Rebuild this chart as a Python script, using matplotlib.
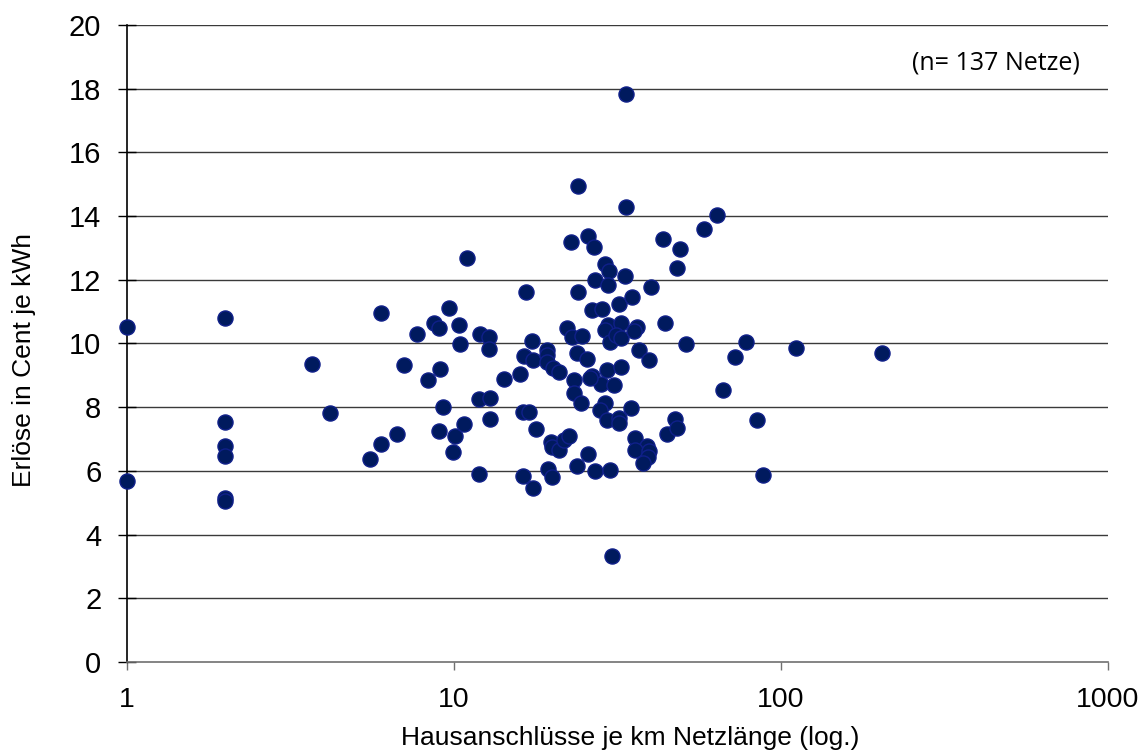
import matplotlib
matplotlib.use("Agg")
import matplotlib.pyplot as plt
from matplotlib.ticker import FixedLocator, NullLocator, FixedFormatter

# Hausanschlüsse je km Netzlänge
anschluesse = [
    1.0, 1.0, 2.0, 2.0, 2.0, 2.0, 2.0, 2.0, 3.68, 4.18,
    5.98, 5.53, 5.98, 6.71, 7.02, 7.72, 8.33, 8.71, 9.0, 9.07,
    9.63, 9.23, 8.97, 10.05, 9.96, 10.7, 10.38, 10.45, 10.96, 11.9,
    12.0, 12.8, 12.8, 11.9, 12.9, 12.9, 14.2, 15.9, 16.4, 17.5,
    16.6, 17.3, 16.3, 17.0, 17.8, 16.3, 17.4, 19.2, 19.2, 19.2,
    20.1, 21.0, 19.8, 20.0, 20.9, 21.7, 22.4, 19.4, 19.9, 22.1,
    22.9, 24.6, 22.8, 24.0, 24.0, 23.8, 25.5, 23.2, 23.2, 24.5,
    23.7, 25.6, 25.7, 26.8, 26.9, 26.5, 28.3, 26.5, 28.2, 27.0,
    29.9, 29.0, 29.8, 29.6, 29.6, 29.0, 30.0, 29.4, 30.9, 29.0,
    28.0, 29.3, 30.5, 33.6, 33.6, 33.3, 32.0, 32.4, 31.3, 32.4,
    32.3, 32.0, 32.0, 34.7, 35.1, 36.2, 35.6, 36.9, 39.6, 40.1,
    35.7, 38.8, 35.7, 39.4, 39.2, 37.9, 43.7, 44.1, 44.9, 47.5,
    48.0, 48.0, 49.0, 51.4, 58.2, 63.9, 66.3, 72.3, 78.0, 84.7,
    87.9, 111.0, 204.0, 26.0,
]

# Erlöse in Cent je kWh
erloese = [
    10.51, 5.67, 10.79, 7.53, 6.77, 6.46, 5.16, 5.05, 9.36, 7.82,
    10.97, 6.36, 6.83, 7.15, 9.33, 10.31, 8.86, 10.63, 10.48, 9.19,
    11.12, 8.00, 7.26, 7.11, 6.58, 7.46, 10.59, 9.99, 12.68, 5.91,
    10.30, 10.19, 9.83, 8.25, 8.28, 7.63, 8.90, 9.05, 9.60, 9.48,
    11.62, 10.07, 7.85, 7.85, 7.33, 5.85, 5.47, 9.80, 9.64, 9.42,
    9.22, 9.10, 6.91, 6.76, 6.66, 6.96, 7.10, 6.07, 5.81, 10.49,
    10.19, 10.23, 13.19, 14.94, 11.63, 9.69, 9.52, 8.84, 8.45, 8.13,
    6.15, 6.54, 13.37, 13.03, 11.99, 11.04, 11.07, 8.99, 8.73, 6.01,
    6.04, 12.49, 12.27, 11.85, 10.58, 10.42, 10.05, 9.16, 8.69, 8.12,
    7.91, 7.60, 3.32, 17.83, 14.30, 12.13, 11.23, 10.65, 10.26, 10.18,
    9.25, 7.65, 7.51, 7.96, 11.45, 10.53, 10.39, 9.79, 9.48, 11.76,
    7.02, 6.79, 6.66, 6.63, 6.43, 6.26, 13.29, 10.63, 7.16, 7.63,
    7.35, 12.37, 12.98, 9.99, 13.60, 14.04, 8.54, 9.59, 10.06, 7.61,
    5.86, 9.85, 9.69, 8.92,
]

x_ticks = [1, 10, 100, 1000]
x_labels = ["1", "10", "100", "1000"]
y_ticks = list(range(0, 21, 2))

plt.rcParams["font.family"] = ["Liberation Sans", "DejaVu Sans"]

fig = plt.figure(figsize=(11.48, 7.52), dpi=100)
ax = fig.add_axes([0.1106, 0.1197, 0.8546, 0.8471])

ax.set_xscale("log")
ax.set_xlim(1, 1000)
ax.set_ylim(0, 20)

# horizontal grid lines behind the points
for yv in y_ticks[1:]:
    ax.axhline(yv, color="#3a3a3a", lw=1.0, zorder=1)

ax.scatter(anschluesse, erloese, s=118, facecolor="#001a5e",
           edgecolor="#10208a", linewidth=1.0, zorder=3, clip_on=False)

ax.xaxis.set_major_locator(FixedLocator(x_ticks))
ax.xaxis.set_major_formatter(FixedFormatter(x_labels))
ax.xaxis.set_minor_locator(NullLocator())
ax.set_yticks(y_ticks)

for side in ("top", "right"):
    ax.spines[side].set_visible(False)
ax.spines["left"].set_color("black")
ax.spines["bottom"].set_color("#707070")
ax.spines["left"].set_linewidth(1.2)
ax.spines["bottom"].set_linewidth(1.2)

ax.tick_params(axis="x", direction="out", length=6, width=1.0,
               labelsize=20.5, pad=12, colors="#707070", labelcolor="black")
ax.tick_params(axis="y", direction="inout", length=13, width=1.0,
               labelsize=21, pad=12)

ax.set_xlabel("Hausanschlüsse je km Netzlänge (log.)", fontsize=19)
ax.xaxis.set_label_coords(0.513, -0.1)
ax.set_ylabel("Erlöse in Cent je kWh", fontsize=19)
ax.yaxis.set_label_coords(-0.093, 0.474)

ax.text(0.9715, 0.94, "(n= 137 Netze)", transform=ax.transAxes,
        ha="right", va="center", fontsize=18,
        family=["Open Sans", "DejaVu Sans"])

fig.savefig("out.png", dpi=100)
